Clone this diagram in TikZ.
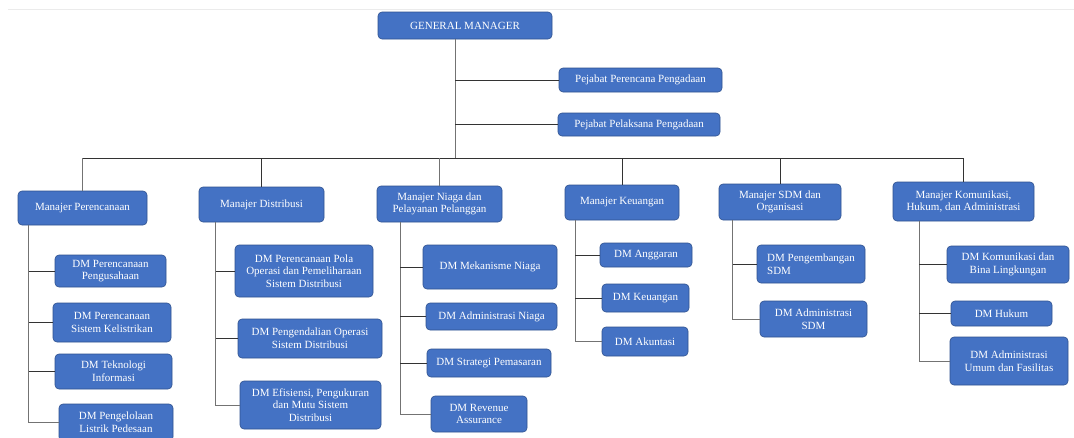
\documentclass[tikz,border=0pt]{standalone}
\usepackage{fontspec}
\setmainfont{Liberation Serif}
\usepackage{tikz}
\definecolor{boxblue}{HTML}{4472C4}
\definecolor{boxedge}{HTML}{2F528F}
\tikzstyle{block} = [rectangle, draw=boxedge, fill=boxblue, text=white,
    rounded corners=4pt, inner sep=0pt, align=center, line width=0.6pt,
    font=\fontsize{11}{12.7}\selectfont]
\tikzstyle{line} = [draw, black!80, line width=0.8pt]
\tikzstyle{spine} = [draw, black!55, line width=1pt]

\begin{document}
\begin{tikzpicture}[x=1pt,y=-1pt]
    \useasboundingbox [fill=white] (0,0) rectangle (1074,437);
    \draw [black!8, line width=0.8pt] (8,9) -- (1074,9);
    % Place nodes
    \node [block, minimum width=174pt, minimum height=27pt] (gm) at (465,25.5) {GENERAL MANAGER};
    \node [block, minimum width=163pt, minimum height=24pt] (ppp) at (640.5,80) {Pejabat Perencana Pengadaan};
    \node [block, minimum width=162pt, minimum height=23pt] (ppl) at (639,124.5) {Pejabat Pelaksana Pengadaan};
    % managers
    \node [block, minimum width=129pt, minimum height=34pt] (mper) at (82.5,208) {Manajer Perencanaan};
    \node [block, minimum width=125pt, minimum height=35pt] (mdis) at (261.5,204.5) {Manajer Distribusi};
    \node [block, minimum width=125pt, minimum height=36pt] (mnia) at (439.5,204) {Manajer Niaga dan\\Pelayanan Pelanggan};
    \node [block, minimum width=114pt, minimum height=35pt] (mkeu) at (622,202.5) {Manajer Keuangan};
    \node [block, minimum width=122pt, minimum height=36pt] (msdm) at (780,202) {Manajer SDM dan\\Organisasi};
    \node [block, minimum width=141pt, minimum height=39pt] (mkom) at (963.5,201.5) {Manajer Komunikasi,\\Hukum, dan Administrasi};
    % perencanaan
    \node [block, minimum width=111pt, minimum height=32pt] (per1) at (110.5,271) {DM Perencanaan\\Pengusahaan};
    \node [block, minimum width=118pt, minimum height=39pt] (per2) at (112,322.5) {DM Perencanaan\\Sistem Kelistrikan};
    \node [block, minimum width=117pt, minimum height=35pt] (per3) at (113.5,371.5) {DM Teknologi\\Informasi};
    \node [block, minimum width=114pt, minimum height=37pt] (per4) at (116,422.5) {DM Pengelolaan\\Listrik Pedesaan};
    % distribusi
    \node [block, minimum width=138pt, minimum height=52pt] (dis1) at (304,271) {DM Perencanaan Pola\\Operasi dan Pemeliharaan\\Sistem Distribusi};
    \node [block, minimum width=144pt, minimum height=39pt] (dis2) at (310,338.5) {DM Pengendalian Operasi\\Sistem Distribusi};
    \node [block, minimum width=141pt, minimum height=48pt] (dis3) at (310.5,405) {DM Efisiensi, Pengukuran\\dan Mutu Sistem\\Distribusi};
    % niaga
    \node [block, minimum width=134pt, minimum height=44pt] (nia1) at (490,267) {DM Mekanisme Niaga};
    \node [block, minimum width=131pt, minimum height=27pt] (nia2) at (491.5,316.5) {DM Administrasi Niaga};
    \node [block, minimum width=124pt, minimum height=28pt] (nia3) at (489,363) {DM Strategi Pemasaran};
    \node [block, minimum width=96pt, minimum height=36pt] (nia4) at (479,414) {DM Revenue\\Assurance};
    % keuangan
    \node [block, minimum width=92pt, minimum height=24pt] (keu1) at (646,255) {DM Anggaran};
    \node [block, minimum width=87pt, minimum height=28pt] (keu2) at (645.5,298) {DM Keuangan};
    \node [block, minimum width=86pt, minimum height=29pt] (keu3) at (645,341.5) {DM Akuntasi};
    % sdm
    \node [block, minimum width=108pt, minimum height=38pt, align=left] (sdm1) at (811,264) {DM Pengembangan\\SDM\hspace*{4.5em}};
    \node [block, minimum width=107pt, minimum height=36pt] (sdm2) at (813.5,319) {DM Administrasi\\SDM};
    % komunikasi
    \node [block, minimum width=122pt, minimum height=37pt] (kom1) at (1008,264.5) {DM Komunikasi dan\\Bina Lingkungan};
    \node [block, minimum width=101pt, minimum height=25pt] (kom2) at (1001.5,313.5) {DM Hukum};
    \node [block, minimum width=118pt, minimum height=48pt] (kom3) at (1009,361) {DM Administrasi\\Umum dan Fasilitas};
    % Draw edges
    \coordinate (bus) at (455,158);
    \path [spine] (gm.south -| bus) -- (bus);
    \path [line] (ppp.west) -- (ppp.west -| bus);
    \path [line] (ppl.west) -- (ppl.west -| bus);
    \path [line] (mper.north |- bus) -- (mkom.north |- bus);
    \path [spine] (mper.north |- bus) -- (mper.north);
    \path [line] (mdis.north |- bus) -- (mdis.north);
    \path [spine] (mnia.north |- bus) -- (mnia.north);
    \path [line] (mkeu.north |- bus) -- (mkeu.north);
    \path [line] (msdm.north |- bus) -- (msdm.north);
    \path [line] (mkom.north |- bus) -- (mkom.north);
    % sub-lines
    \coordinate (sper) at (28.5,0);
    \coordinate (sdis) at (215.7,0);
    \coordinate (snia) at (400,0);
    \coordinate (skeu) at (575,0);
    \coordinate (ssdm) at (732.7,0);
    \coordinate (skom) at (919.3,0);
    \path [spine] (mper.south -| sper) |- (per4.west);
    \path [line] (per1.west) -- (per1.west -| sper);
    \path [line] (per2.west) -- (per2.west -| sper);
    \path [line] (per3.west) -- (per3.west -| sper);
    \path [spine] (mdis.south -| sdis) |- (dis3.west);
    \path [line] (dis1.west) -- (dis1.west -| sdis);
    \path [line] (dis2.west) -- (dis2.west -| sdis);
    \path [spine] (mnia.south -| snia) |- (nia4.west);
    \path [line] (nia1.west) -- (nia1.west -| snia);
    \path [line] (nia2.west) -- (nia2.west -| snia);
    \path [line] (nia3.west) -- (nia3.west -| snia);
    \path [spine] (mkeu.south -| skeu) |- (keu3.west);
    \path [line] (keu1.west) -- (keu1.west -| skeu);
    \path [line] (keu2.west) -- (keu2.west -| skeu);
    \path [spine] (msdm.south -| ssdm) |- (sdm2.west);
    \path [line] (sdm1.west) -- (sdm1.west -| ssdm);
    \path [spine] (mkom.south -| skom) |- (kom3.west);
    \path [line] (kom1.west) -- (kom1.west -| skom);
    \path [line] (kom2.west) -- (kom2.west -| skom);
\end{tikzpicture}
\end{document}
